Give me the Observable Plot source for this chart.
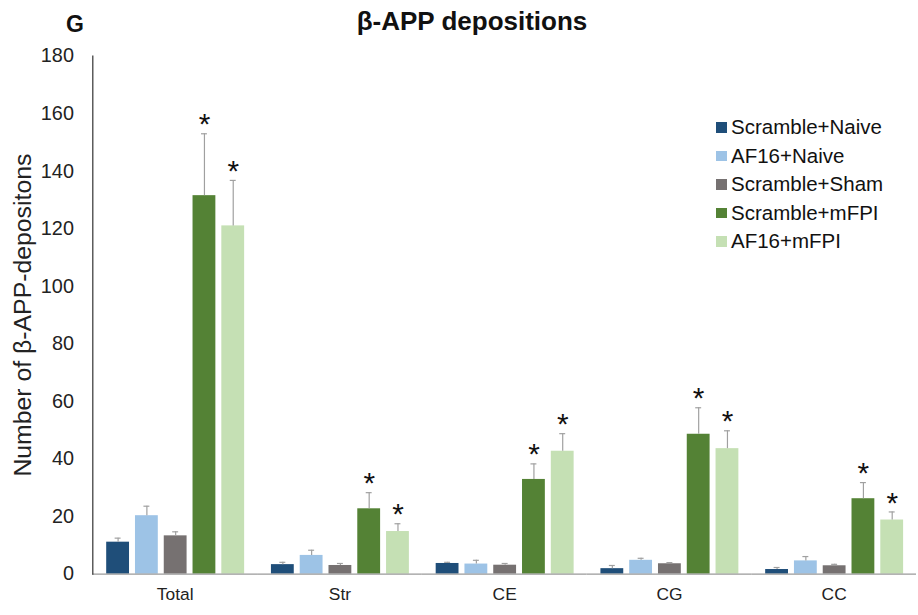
<!DOCTYPE html>
<html>
<head>
<meta charset="utf-8">
<script src="https://cdn.jsdelivr.net/npm/d3@7"></script>
<script src="https://cdn.jsdelivr.net/npm/@observablehq/plot@0.6"></script>
<style>
  html, body { margin: 0; padding: 0; background: #fff; overflow: hidden; }
  #wrap { position: relative; width: 918px; height: 615px; overflow: hidden; font-family: "Liberation Sans", Arial, sans-serif; }
  #chart { position: absolute; left: 0; top: 0; }
  .title { position: absolute; top: 8px; left: 472px; transform: translateX(-50%); font-weight: bold; font-size: 26px; line-height: 1; color: #111; white-space: nowrap; }
  .panel { position: absolute; top: 13px; left: 66px; font-weight: bold; font-size: 23px; line-height: 1; color: #111; }
  .legend { position: absolute; left: 716px; top: 113px; }
  .legend .item { display: flex; align-items: center; height: 28.5px; font-size: 20.5px; color: #111; white-space: nowrap; }
  .legend .sw { width: 10.5px; height: 10.5px; margin-right: 4.5px; flex: none; }
</style>
</head>
<body>
<div id="wrap">
  <div id="chart"></div>
  <div class="panel">G</div>
  <div class="title">β-APP depositions</div>
  <div class="legend" id="legend"></div>
</div>
<script>
const groups = ["Total", "Str", "CE", "CG", "CC"];
const series = ["Scramble+Naive", "AF16+Naive", "Scramble+Sham", "Scramble+mFPI", "AF16+mFPI"];
const colors = ["#1f4e79", "#9dc3e6", "#767171", "#548235", "#c5e0b4"];

const scrambleNaive = [11.1, 3.3, 3.7, 1.9, 1.6];
const af16Naive     = [20.3, 6.5, 3.5, 4.8, 4.6];
const scrambleSham  = [13.3, 3.0, 3.1, 3.6, 2.9];
const scrambleMFPI  = [131.5, 22.7, 32.9, 48.6, 26.2];
const af16MFPI      = [121.0, 14.8, 42.7, 43.6, 18.8];

const errScrambleNaive = [1.4, 0.8, 0.4, 1.1, 0.7];
const errAf16Naive     = [3.3, 1.8, 1.3, 0.7, 1.5];
const errScrambleSham  = [1.4, 0.7, 0.6, 0.4, 0.5];
const errScrambleMFPI  = [21.5, 5.6, 5.4, 9.2, 5.6];
const errAf16MFPI      = [15.8, 2.7, 6.1, 6.2, 2.8];

const significant = [false, false, false, true, true];
const yTicks = [0, 20, 40, 60, 80, 100, 120, 140, 160, 180];

const values = [scrambleNaive, af16Naive, scrambleSham, scrambleMFPI, af16MFPI];
const errors = [errScrambleNaive, errAf16Naive, errScrambleSham, errScrambleMFPI, errAf16MFPI];

const table = groups.flatMap((g, i) => series.map((s, j) => ({
  group: g, series: s, value: values[j][i], err: errors[j][i], sig: significant[j]
})));
const errTop = d => d.value + d.err;

const chart = Plot.plot({
  width: 925,
  height: 615,
  marginLeft: 91,
  marginRight: 0,
  marginTop: 56,
  marginBottom: 37,
  style: { fontFamily: "'Liberation Sans', Arial, sans-serif", background: "transparent", color: "#222" },
  fx: { domain: groups, padding: 0, label: null },
  x: { domain: series, paddingInner: 0.22, paddingOuter: 0.39, axis: null },
  y: { domain: [0, 180] },
  color: { domain: series, range: colors },
  marks: [
    Plot.axisY({ ticks: yTicks, tickSize: 0, tickPadding: 19, fontSize: 20, label: "Number of β-APP-depositons", labelAnchor: "center", labelOffset: 80, labelArrow: "none" }),
    Plot.axisFx({ anchor: "bottom", tickSize: 0, tickPadding: 14, fontSize: 17.5, label: null }),
    Plot.barY(table, { fx: "group", x: "series", y: "value", fill: "series" }),
    Plot.ruleX(table, { fx: "group", x: "series", y1: "value", y2: errTop, stroke: "#a0a0a0", strokeWidth: 1.2 }),
    Plot.tickY(table, { fx: "group", x: "series", y: errTop, stroke: "#a0a0a0", strokeWidth: 1.2, insetLeft: 8.5, insetRight: 8.5 }),
    Plot.text(table.filter(d => d.sig), { fx: "group", x: "series", y: errTop, text: () => "*", fontSize: 30, dy: -9, fill: "#111" }),
    Plot.ruleY([0], { stroke: "#9a9a9a", strokeWidth: 1.5 }),
    Plot.frame({ anchor: "left", facetAnchor: "left", stroke: "#404040", strokeWidth: 1.3 })
  ]
});
d3.select(chart).selectAll('g[aria-label="y-axis label"], g[aria-label="y-axis label"] text').attr("font-size", 25);
document.getElementById("chart").appendChild(chart);

const legend = document.getElementById("legend");
series.forEach((s, i) => {
  const item = document.createElement("div");
  item.className = "item";
  const sw = document.createElement("span");
  sw.className = "sw";
  sw.style.background = colors[i];
  const label = document.createElement("span");
  label.textContent = s;
  item.appendChild(sw);
  item.appendChild(label);
  legend.appendChild(item);
});
</script>
</body>
</html>
